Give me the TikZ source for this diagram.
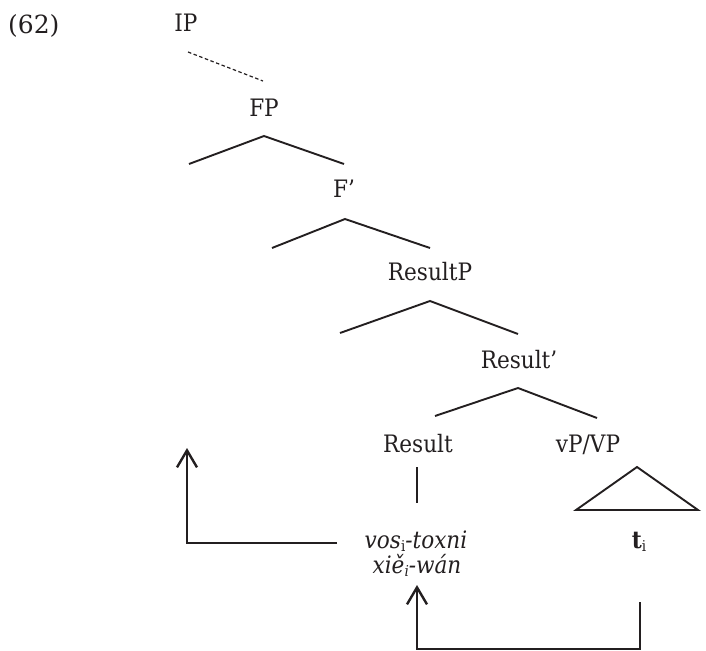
\documentclass[tikz,border=0pt]{standalone}
\usepackage{fontspec}
\setmainfont{DejaVu Serif Condensed}
\newfontfamily\wideserif{DejaVu Serif}
\usetikzlibrary{arrows.meta}
\definecolor{ink}{HTML}{231F20}
\newcommand\mysub[1]{\raisebox{-0.32ex}{\fontsize{15}{15}\selectfont #1}}
\begin{document}
\begin{tikzpicture}[x=1pt,y=-1pt,
  lab/.style={inner sep=0pt, anchor=base, text=ink, font=\fontsize{24}{28}\selectfont},
  branch/.style={line width=1.9pt, draw=ink},
  dashbranch/.style={line width=1.2pt, draw=ink, dash pattern=on 3.5pt off 2.5pt},
  move/.style={line width=2.8pt, draw=ink, -{Straight Barb[length=17pt,width=20pt,line width=2.4pt]}}]
\useasboundingbox (0,0) rectangle (706,650);
% labels
\node[lab, anchor=base west, font=\wideserif\fontsize{25}{28}\selectfont] (ex) at (8,34) {(62)};
\node[lab] (IP) at (186,32) {IP};
\node[lab] (FP) at (264,117) {FP};
\node[lab] (Fbar) at (344,197) {F’};
\node[lab] (ResP) at (430,280) {ResultP};
\node[lab] (Resbar) at (519,368) {Result’};
\node[lab] (Res) at (418,452) {Result};
\node[lab] (vP) at (588,452) {vP/VP};
\node[lab] (verbA) at (416,548) {\itshape vos\textup{\mysub{i}}-toxni};
\node[lab] (verbB) at (417,573) {\itshape xiě\mysub{i}-wán};
\node[lab] (trace) at (639,548) {\textbf{t}\mysub{i}};
% branch points
\coordinate (ipE) at (188,52);  \coordinate (fpT) at (263,81);
\coordinate (fpL) at (189,164); \coordinate (fpA) at (264,136); \coordinate (fpR) at (344,164);
\coordinate (fbL) at (272,248); \coordinate (fbA) at (345,219); \coordinate (fbR) at (430,248);
\coordinate (rpL) at (340,333); \coordinate (rpA) at (430,301); \coordinate (rpR) at (518,334);
\coordinate (rbL) at (435,416); \coordinate (rbA) at (518,388); \coordinate (rbR) at (597,418);
\coordinate (resT) at (417,467); \coordinate (resB) at (417,503);
\coordinate (triA) at (637,467); \coordinate (triL) at (576,510); \coordinate (triR) at (698,510);
% tree
\draw[dashbranch] (ipE) -- (fpT);
\draw[branch] (fpL) -- (fpA) -- (fpR);
\draw[branch] (fbL) -- (fbA) -- (fbR);
\draw[branch] (rpL) -- (rpA) -- (rpR);
\draw[branch] (rbL) -- (rbA) -- (rbR);
\draw[branch] (resT) -- (resB);
\draw[branch] (triA) -- (triL) -- (triR) -- cycle;
% movement arrows
\coordinate (mvS) at (337,543); \coordinate (mvT) at (187,448);
\draw[move] (mvS) -| (mvT);
\coordinate (trS) at (640,602); \coordinate (trB) at (417,649); \coordinate (trT) at (417,585);
\draw[move] (trS) |- (trB) -- (trT);
\end{tikzpicture}
\end{document}
